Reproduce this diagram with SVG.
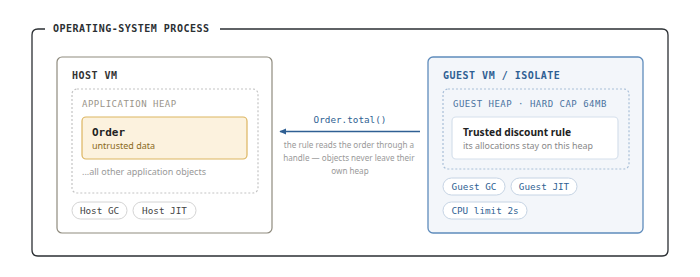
<svg xmlns="http://www.w3.org/2000/svg" width="700" height="277" viewBox="0 0 700 277">
<defs>
<style>
.mono{font-family:"DejaVu Sans Mono","Liberation Mono",monospace}
.sans{font-family:"Noto Sans","Liberation Sans",sans-serif}
.ttl{font-size:10px;font-weight:bold;letter-spacing:0.5px}
.heap{font-size:9px;letter-spacing:0.5px}
.pill{font-size:9.3px}
</style>
<marker id="ah" viewBox="0 0 10 10" refX="9" refY="5" markerWidth="7" markerHeight="7" orient="auto" markerUnits="userSpaceOnUse">
<path d="M0,0.5 L10,5 L0,9.5 Z" fill="#2f5f93"/>
</marker>
</defs>
<rect width="700" height="277" fill="#ffffff"/>
<g id="process">
<path d="M45,29 L38,29 Q32,29 32,35 L32,250 Q32,256 38,256 L662,256 Q668,256 668,250 L668,35 Q668,29 662,29 L220,29" fill="none" stroke="#2b2f33" stroke-width="1.3"/>
<text x="53" y="31.5" class="mono ttl" fill="#2b2f33">OPERATING-SYSTEM PROCESS</text>
</g>
<g id="host-vm">
<rect x="57" y="57" width="215" height="176" rx="5" fill="#ffffff" stroke="#8f8b7e" stroke-width="1.2"/>
<text x="72" y="79" class="mono ttl" fill="#333">HOST VM</text>
</g>
<g id="application-heap">
<rect x="72" y="89" width="186" height="104" rx="5" fill="none" stroke="#c4c4c4" stroke-width="1.2" stroke-dasharray="2,2"/>
<text x="82" y="107" class="mono heap" fill="#9a958a">APPLICATION HEAP</text>
<text x="82" y="175" class="sans" font-size="9" fill="#999">...all other application objects</text>
</g>
<g id="order">
<rect x="82" y="117" width="165" height="42" rx="4" fill="#fcf2de" stroke="#dcb560" stroke-width="1.2"/>
<text x="92" y="136" class="mono" font-size="11" font-weight="bold" fill="#222">Order</text>
<text x="92" y="149" class="sans" font-size="9" fill="#8a6a22">untrusted data</text>
</g>
<g id="host-gc">
<rect x="72" y="202" width="55" height="17" rx="8.5" fill="#fff" stroke="#d4d4d4"/>
<text x="99.5" y="214" class="mono pill" text-anchor="middle" fill="#444">Host GC</text>
</g>
<g id="host-jit">
<rect x="133" y="202" width="63" height="17" rx="8.5" fill="#fff" stroke="#d4d4d4"/>
<text x="164.5" y="214" class="mono pill" text-anchor="middle" fill="#444">Host JIT</text>
</g>
<g id="guest-vm">
<rect x="428" y="57" width="215" height="176" rx="5" fill="#f3f6fa" stroke="#5f8cbc" stroke-width="1.3"/>
<text x="443" y="79" class="mono ttl" fill="#2f5f93">GUEST VM / ISOLATE</text>
</g>
<g id="guest-heap">
<rect x="443" y="89" width="186" height="80" rx="5" fill="none" stroke="#a9bfd8" stroke-width="1.2" stroke-dasharray="2,2"/>
<text x="453" y="107" class="mono heap" fill="#4a73a0">GUEST HEAP · HARD CAP 64MB</text>
</g>
<g id="trusted-rule">
<rect x="452" y="117" width="166" height="42" rx="4" fill="#ffffff" stroke="#d6e0ec" stroke-width="1.2"/>
<text x="463" y="136" class="sans" font-size="10.2" font-weight="bold" fill="#222">Trusted discount rule</text>
<text x="463" y="149" class="sans" font-size="8.9" fill="#888">its allocations stay on this heap</text>
</g>
<g id="guest-gc">
<rect x="443" y="178" width="62" height="17" rx="8.5" fill="#fff" stroke="#c6d4e4"/>
<text x="474" y="190" class="mono pill" text-anchor="middle" fill="#2f5f93">Guest GC</text>
</g>
<g id="guest-jit">
<rect x="511" y="178" width="66" height="17" rx="8.5" fill="#fff" stroke="#c6d4e4"/>
<text x="544" y="190" class="mono pill" text-anchor="middle" fill="#2f5f93">Guest JIT</text>
</g>
<g id="cpu-limit">
<rect x="443" y="202" width="84" height="17" rx="8.5" fill="#fff" stroke="#c6d4e4"/>
<text x="485" y="214" class="mono pill" text-anchor="middle" fill="#2f5f93">CPU limit 2s</text>
</g>
<g id="connectors">
<line x1="420" y1="131.5" x2="280" y2="131.5" stroke="#2f5f93" stroke-width="1.5" marker-end="url(#ah)"/>
<text x="350" y="122.5" class="mono" font-size="9.3" text-anchor="middle" fill="#2f5f93">Order.total()</text>
<text class="sans" font-size="8.1" text-anchor="middle" fill="#999">
<tspan x="350" y="148">the rule reads the order through a</tspan>
<tspan x="350" y="161">handle — objects never leave their</tspan>
<tspan x="350" y="174">own heap</tspan>
</text>
</g>
</svg>
